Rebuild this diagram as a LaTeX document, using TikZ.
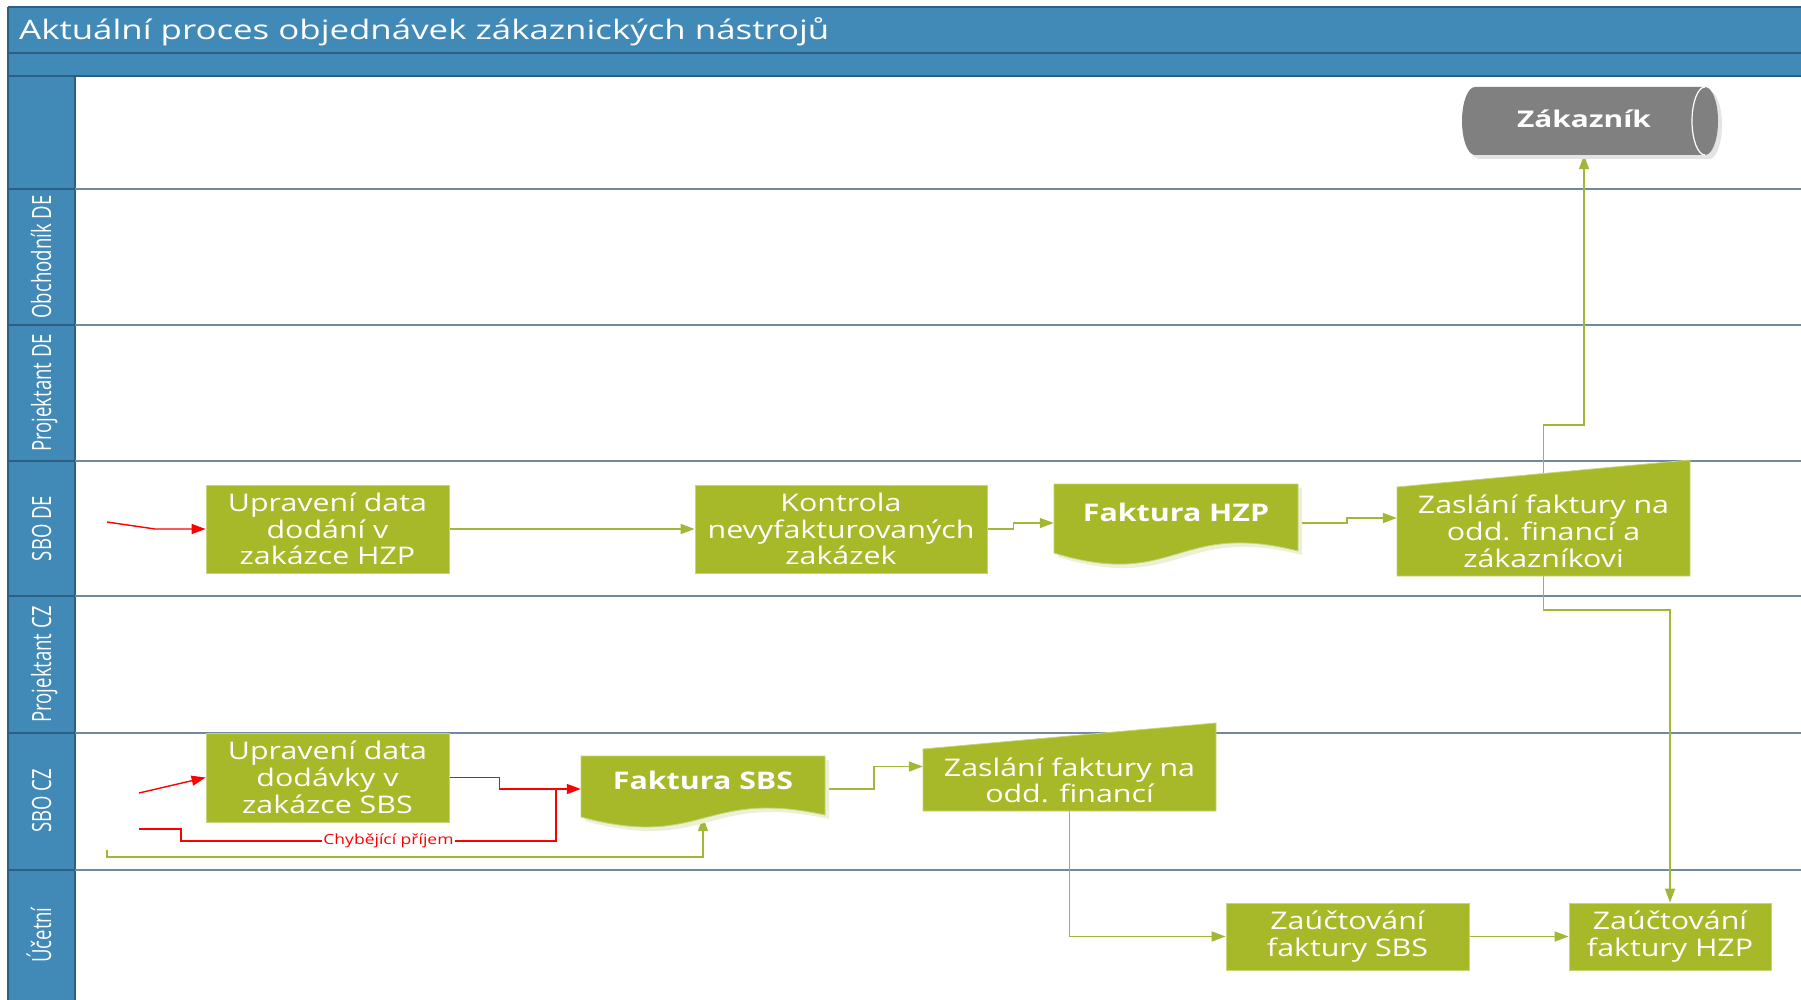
\documentclass[tikz,border=0pt]{standalone}
\usepackage{fontspec}
\setmainfont{Open Sans}
\newfontfamily\widefont[FakeStretch=1.25]{Open Sans}
\newfontfamily\titlefont[FakeStretch=1.3]{Open Sans}
\newfontfamily\lanefont[FakeStretch=0.7]{Open Sans}
\usetikzlibrary{arrows.meta,calc}
\pgfdeclarelayer{bg}
\pgfsetlayers{bg,main}

\definecolor{poolblue}{RGB}{65,137,182}
\definecolor{pooledge}{RGB}{45,95,128}
\definecolor{lanegray}{RGB}{110,138,158}
\definecolor{boxgreen}{RGB}{167,184,41}
\definecolor{boxedge}{RGB}{200,212,120}
\definecolor{linegreen}{RGB}{163,182,55}
\definecolor{shadowgreen}{RGB}{236,240,214}
\definecolor{zakgray}{RGB}{128,128,128}
\definecolor{zakshadow}{RGB}{228,228,228}

\begin{document}
\begin{tikzpicture}[x=1pt,y=-1pt,
  box/.style={fill=boxgreen, draw=boxedge, line width=0.8pt, inner sep=0pt,
    text=white, align=center, font=\widefont\fontsize{24.3}{26.7}\selectfont},
  boxtext/.style={inner sep=0pt, text=white, align=center,
    font=\widefont\fontsize{24.3}{26.7}\selectfont},
  doctext/.style={inner sep=0pt, text=white,
    font=\widefont\bfseries\fontsize{24.3}{28}\selectfont},
  anchorbox/.style={inner sep=0pt},
  lanelabel/.style={rotate=90, anchor=base, inner sep=0pt, text=white,
    font=\lanefont\fontsize{26.5}{30}\selectfont},
  gline/.style={draw=linegreen, line width=1.6pt},
  garrow/.style={gline, -{Triangle[length=14pt,width=10pt]}},
  rline/.style={draw=red, line width=1.4pt},
  rarrow/.style={rline, -{Triangle[length=14pt,width=10pt]}},
  shapefill/.style={fill=boxgreen, draw=boxedge, line width=0.8pt}
]
\useasboundingbox (0,0) rectangle (1801,1000);

% ---------- pool frame and lanes ----------
\begin{pgfonlayer}{bg}
\fill[white] (0,0) rectangle (1801,1000);
\fill[poolblue] (8,7) rectangle (1801,76);
\fill[poolblue] (8,76) rectangle (75,1000);
\draw[pooledge, line width=1.6pt] (8,7) -- (1801,7);
\draw[pooledge, line width=1.6pt] (8,53) -- (1801,53);
\draw[pooledge, line width=1.6pt] (8,76) -- (1801,76);
\draw[pooledge, line width=1.6pt] (8,7) -- (8,1000);
\draw[pooledge, line width=1.6pt] (75,76) -- (75,1000);
\foreach \ly in {189.5,325,460.6,596,733,869.5}{
  \draw[lanegray, line width=2pt] (75,\ly) -- (1801,\ly);
  \draw[pooledge, line width=2pt] (8,\ly) -- (75,\ly);
}
\end{pgfonlayer}

\node[anchor=base west, inner sep=0pt, text=white,
  font=\titlefont\fontsize{26.8}{30}\selectfont] (title) at (19,39.5)
  {Aktuální proces objednávek zákaznických nástrojů};

\node[lanelabel] (l1) at (51,257) {Obchodník DE};
\node[lanelabel] (l2) at (51,393) {Projektant DE};
\node[lanelabel] (l3) at (51,528.5) {SBO DE};
\node[lanelabel] (l4) at (51,664.5) {Projektant CZ};
\node[lanelabel] (l5) at (51,801) {SBO CZ};
\node[lanelabel] (l6) at (51,935) {Účetní};

% ---------- customer (direct data) ----------
\fill[zakshadow] (1479,91) -- (1709,91)
  .. controls (1716.2,91) and (1722,106.2) .. (1722,125)
  .. controls (1722,143.8) and (1716.2,159) .. (1709,159)
  -- (1479,159)
  .. controls (1471.8,159) and (1466,143.8) .. (1466,125)
  .. controls (1466,106.2) and (1471.8,91) .. (1479,91) -- cycle;
\fill[zakgray] (1475,87) -- (1705,87)
  .. controls (1712.2,87) and (1718,102.2) .. (1718,121)
  .. controls (1718,139.8) and (1712.2,155) .. (1705,155)
  -- (1475,155)
  .. controls (1467.8,155) and (1462,139.8) .. (1462,121)
  .. controls (1462,102.2) and (1467.8,87) .. (1475,87) -- cycle;
\draw[white, line width=1.2pt] (1705,87)
  .. controls (1697.8,87) and (1692,102.2) .. (1692,121)
  .. controls (1692,139.8) and (1697.8,155) .. (1705,155);
\node[anchorbox, minimum width=256pt, minimum height=68pt] (zak) at (1584,121) {};
\node[anchor=base, inner sep=0pt, text=white,
  font=\titlefont\bfseries\fontsize{23}{26}\selectfont] (zaktext) at (1584,127.3) {Zákazník};

% ---------- SBO DE lane ----------
\node[box, minimum width=243pt, minimum height=88pt] (b1) at (327.5,529)
  {Upravení data\\dodání v\\zakázce HZP};
\node[box, minimum width=292pt, minimum height=88pt] (b2) at (841,529)
  {Kontrola\\nevyfakturovaných\\zakázek};

\fill[shadowgreen] (1058,488) -- (1302,488) -- (1302,555)
  .. controls (1180,524) and (1180,594) .. (1058,557) -- cycle;
\path[shapefill] (1054,484) -- (1298,484) -- (1298,551)
  .. controls (1176,520) and (1176,590) .. (1054,553) -- cycle;
\node[anchorbox, minimum width=244pt, minimum height=69pt] (fhzp) at (1176,518.5) {};
\node[doctext] (fhzptext) at (1176,512) {Faktura HZP};

\path[shapefill] (1397,487) -- (1690,460) -- (1690,576) -- (1397,576) -- cycle;
\node[anchorbox, minimum width=293pt, minimum height=116pt] (zde) at (1543.5,518) {};
\node[boxtext] (zdetext) at (1543.5,531.5) {Zaslání faktury na\\odd. financí a\\zákazníkovi};

% ---------- SBO CZ lane ----------
\node[box, minimum width=243pt, minimum height=89pt] (b3) at (327.5,777.5)
  {Upravení data\\dodávky v\\zakázce SBS};

\fill[shadowgreen] (585,760) -- (829,760) -- (829,819)
  .. controls (707,792) and (707,854) .. (585,821) -- cycle;
\path[shapefill] (581,756) -- (825,756) -- (825,815)
  .. controls (703,788) and (703,850) .. (581,817) -- cycle;
\node[anchorbox, minimum width=244pt, minimum height=61pt] (fsbs) at (703,786.5) {};
\node[doctext] (fsbstext) at (703,780) {Faktura SBS};

\path[shapefill] (923,749) -- (1216,723) -- (1216,811) -- (923,811) -- cycle;
\node[anchorbox, minimum width=293pt, minimum height=89pt] (zcz) at (1069.5,766.5) {};
\node[boxtext] (zcztext) at (1069.5,780.5) {Zaslání faktury na\\odd. financí};

% ---------- Účetní lane ----------
\node[box, minimum width=243pt, minimum height=67pt] (b4) at (1347.5,936.5)
  {Zaúčtování\\faktury SBS};
\node[box, minimum width=202pt, minimum height=67pt] (b5) at (1670,936.5)
  {Zaúčtování\\faktury HZP};

% ---------- connectors ----------
\coordinate (inA) at (107,522);
\coordinate (inB) at (139,793);
\coordinate (inC) at (139,829);
\coordinate (inD) at (107,850);
\coordinate (join) at (556,789);

\begin{pgfonlayer}{bg}
\draw[rarrow] (inA) -- (155,529) -- (b1.west);
\draw[garrow] (b1.east) -- (b2.west);
\draw[garrow] (b2.east) -- ++(26,0) |- ([yshift=-4.5pt]fhzp.west);
\draw[garrow] ([yshift=-4.5pt]fhzp.east) -- ++(49,0) |- (zde.west);
\draw[garrow] (zde.center) -- ++(0,-93) -| (zak.south);
\draw[garrow] (zde.center) -- ++(0,92) -| (b5.north);

\draw[rarrow] (inB) -- (b3.west);
\draw[rarrow] (b3.east) -- ++(50,0) |- ([yshift=-2.5pt]fsbs.west);
\draw[rline] (inC) -| ++(42,12) -- (join |- 0,841) -- (join);
\node[anchor=base, fill=white, inner xsep=1pt, inner ysep=1.5pt, text=red,
  font=\widefont\fontsize{14}{16}\selectfont] (miss) at (388.5,844) {Chybějící příjem};
\draw[garrow] (inD) -- ++(0,7) -| (fsbs.south);
\draw[garrow] ([yshift=-2.5pt]fsbs.east) -- ++(49,0) |- (zcz.west);
\draw[garrow] (zcz.center) |- (b4.west);
\draw[garrow] (b4.east) -- (b5.west);
\end{pgfonlayer}

\end{tikzpicture}
\end{document}
